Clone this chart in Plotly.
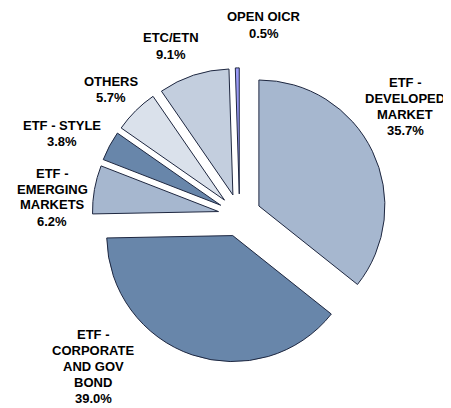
import plotly.graph_objects as go

# The page body adds an 8px margin, so the figure is drawn at (8, 8) in the window.
OFF = 8
W, H = 451 - OFF, 408 - OFF

# Data
labels = ["ETF - DEVELOPED MARKET", "ETF - CORPORATE AND GOV BOND", "ETF - EMERGING MARKETS",
          "ETF - STYLE", "OTHERS", "ETC/ETN", "OPEN OICR"]
values = [35.7, 39.0, 6.2, 3.8, 5.7, 9.1, 0.5]
label_lines = [["ETF -", "DEVELOPED", "MARKET"], ["ETF -", "CORPORATE", "AND GOV", "BOND"],
               ["ETF -", "EMERGING", "MARKETS"], ["ETF - STYLE"], ["OTHERS"], ["ETC/ETN"], ["OPEN OICR"]]

# Styles / positions (window pixel centers of label blocks)
colors = ["#A6B7CF", "#6886AA", "#A6B7CF", "#6886AA", "#DAE1EB", "#C3CEDE", "#9A9AF5"]
label_pos = [(405, 106.5), (93, 366), (52, 197), (62, 133), (111, 89), (171, 46), (264, 25)]
LINE_H = 16

cx, cy, r, pull = 239.6 - OFF, 215.3 - OFF, 126.0, 0.17
half = r * (1 + pull)

fig = go.Figure(go.Pie(
    labels=labels, values=values, sort=False, direction="clockwise", rotation=0,
    pull=[pull] * len(values), textinfo="none", hoverinfo="label+percent",
    marker=dict(colors=colors, line=dict(color="#1E2740", width=1)),
    domain=dict(x=[(cx - half) / W, (cx + half) / W], y=[1 - (cy + half) / H, 1 - (cy - half) / H]),
    showlegend=False,
))

for lines, v, (px, py) in zip(label_lines, values, label_pos):
    all_lines = lines + [f"{v:.1f}%"]
    n = len(all_lines)
    for i, t in enumerate(all_lines):
        ly = py + (i - (n - 1) / 2) * LINE_H - OFF
        fig.add_annotation(
            x=(px - OFF) / W, y=1 - ly / H, xref="paper", yref="paper",
            text=t, showarrow=False, xanchor="center", yanchor="middle",
            font=dict(family="Liberation Sans, Arial, sans-serif", size=13, color="#000000", weight="bold"),
        )

fig.update_layout(width=W, height=H, margin=dict(l=0, r=0, t=0, b=0),
                  paper_bgcolor="white", plot_bgcolor="white")
fig.write_html("out.html")
